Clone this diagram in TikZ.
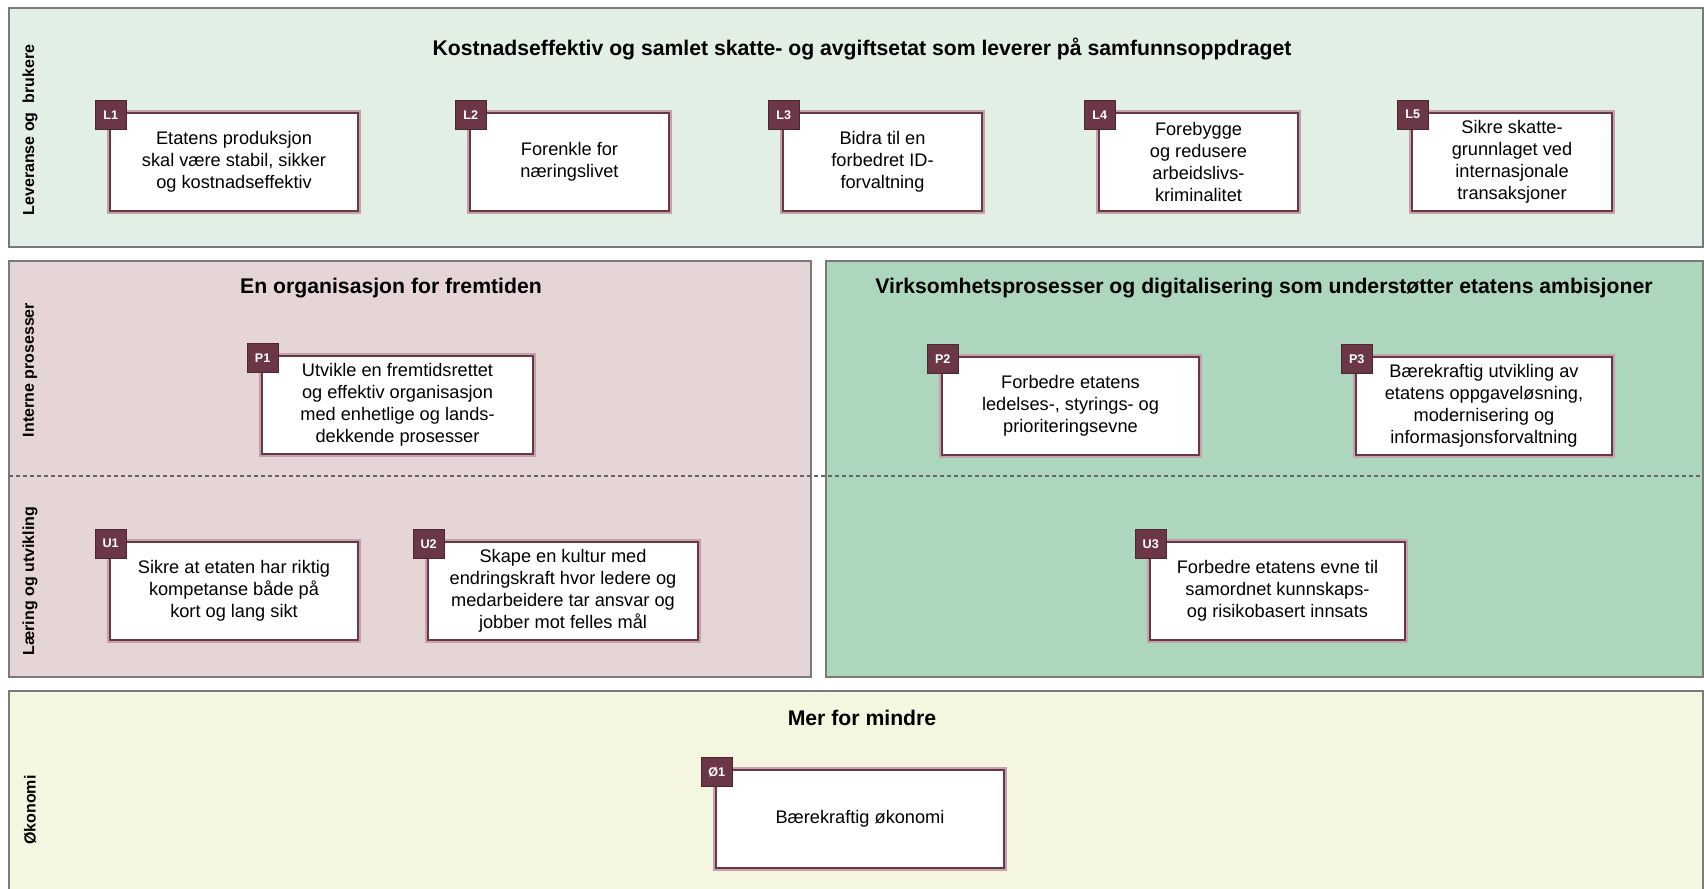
\documentclass[tikz,border=0pt]{standalone}
\usepackage{fontspec}
\setmainfont{Liberation Sans}
\usetikzlibrary{positioning}
\definecolor{panelgray}{HTML}{7A7A7A}
\definecolor{levgreen}{HTML}{E2EFE5}
\definecolor{orgpink}{HTML}{E6D5D6}
\definecolor{digigreen}{HTML}{ACD7BC}
\definecolor{okoyellow}{HTML}{F4F6E0}
\definecolor{maal}{HTML}{6B3747}
\definecolor{maalglow}{HTML}{C4A2AA}

\tikzset{
	panel/.style={draw=panelgray, line width=1.4pt},
	skille/.style={draw=black!60, line width=0.6pt, dash pattern=on 2pt off 1.5pt},
	maalboks/.style={draw=maal, line width=1.3pt, fill=white, align=center, minimum height=49pt,
		inner sep=2pt, font=\fontsize{9.1}{11}\selectfont, preaction={draw=maalglow, line width=3pt}},
	merke/.style={draw=maal!70!black, fill=maal, text=white, font=\bfseries\fontsize{6.3}{7}\selectfont,
		minimum width=15.5pt, minimum height=14.5pt, inner sep=0pt, line width=0.6pt},
	overskrift/.style={font=\bfseries\fontsize{10.6}{12}\selectfont},
	perspektiv/.style={rotate=90, font=\bfseries\fontsize{8}{9}\selectfont}
}

\begin{document}
\begin{tikzpicture}[x=0.5pt,y=-0.5pt]
			\useasboundingbox (0,0) rectangle (1704,889);
			\draw [panel,fill=levgreen] (9,8) rectangle (1703,247);
			\draw [panel,fill=orgpink] (9,261) rectangle (811,677);
			\draw [panel,fill=digigreen] (826,261) rectangle (1703,677);
			\draw [panel,fill=okoyellow] (9,691) rectangle (1703,900);
			\draw [skille] (9,476) -- (1703,476);
			
			\node [overskrift] (tittelLev) at (862,49) {Kostnadseffektiv og samlet skatte- og avgiftsetat som leverer på samfunnsoppdraget};
			\node [overskrift] (tittelOrg) at (391,288) {En organisasjon for fremtiden};
			\node [overskrift] (tittelDig) at (1264,288) {Virksomhetsprosesser og digitalisering som understøtter etatens ambisjoner};
			\node [overskrift] (tittelOko) at (862,718) {Mer for mindre};
			
			\node [perspektiv] (levBruk) at (30,130) {Leveranse og\ \ brukere};
			\node [perspektiv] (interne) at (30,370) {Interne prosesser};
			\node [perspektiv] (laering) at (30,581) {Læring og utvikling};
			\node [perspektiv] (okonomi) at (30,810) {Økonomi};
			
			\node [maalboks,minimum width=124pt] (L1) at (234,162) {Etatens produksjon\\skal være stabil, sikker\\og kostnadseffektiv};
			\node [maalboks,minimum width=99.5pt] (L2) at (569.5,162) {Forenkle for\\næringslivet};
			\node [maalboks,minimum width=99.5pt] (L3) at (882.5,162) {Bidra til en\\forbedret ID-\\forvaltning};
			\node [maalboks,minimum width=99.5pt] (L4) at (1198.5,162) {Forebygge\\og redusere\\arbeidslivs-\\kriminalitet};
			\node [maalboks,minimum width=100pt] (L5) at (1512,162) {Sikre skatte-\\grunnlaget ved\\internasjonale\\transaksjoner};
			
			\node [maalboks,minimum width=135.5pt] (P1) at (397.5,405) {Utvikle en fremtidsrettet\\og effektiv organisasjon\\med enhetlige og lands-\\dekkende prosesser};
			\node [maalboks,minimum width=128.5pt] (P2) at (1070.5,406) {Forbedre etatens\\ledelses-, styrings- og\\prioriteringsevne};
			\node [maalboks,minimum width=128pt] (P3) at (1484,406) {Bærekraftig utvikling av\\etatens oppgaveløsning,\\modernisering og\\informasjonsforvaltning};
			
			\node [maalboks,minimum width=124pt] (U1) at (234,591) {Sikre at etaten har riktig\\kompetanse både på\\kort og lang sikt};
			\node [maalboks,minimum width=135pt] (U2) at (563,591) {Skape en kultur med\\endringskraft hvor ledere og\\medarbeidere tar ansvar og\\jobber mot felles mål};
			\node [maalboks,minimum width=127.5pt] (U3) at (1277.5,591) {Forbedre etatens evne til\\samordnet kunnskaps-\\og risikobasert innsats};
			
			\node [maalboks,minimum width=144pt] (O1) at (860,819) {Bærekraftig økonomi};
			
			\node [merke] (mL1) at ([shift={(2,3)}]L1.north west) {L1};
			\node [merke] (mL2) at ([shift={(2,3)}]L2.north west) {L2};
			\node [merke] (mL3) at ([shift={(2,3)}]L3.north west) {L3};
			\node [merke] (mL4) at ([shift={(2,3)}]L4.north west) {L4};
			\node [merke] (mL5) at ([shift={(2,3)}]L5.north west) {L5};
			\node [merke] (mP1) at ([shift={(2,3)}]P1.north west) {P1};
			\node [merke] (mP2) at ([shift={(2,3)}]P2.north west) {P2};
			\node [merke] (mP3) at ([shift={(2,3)}]P3.north west) {P3};
			\node [merke] (mU1) at ([shift={(2,3)}]U1.north west) {U1};
			\node [merke] (mU2) at ([shift={(2,3)}]U2.north west) {U2};
			\node [merke] (mU3) at ([shift={(2,3)}]U3.north west) {U3};
			\node [merke] (mO1) at ([shift={(2,3)}]O1.north west) {Ø1};
		\end{tikzpicture}
\end{document}
